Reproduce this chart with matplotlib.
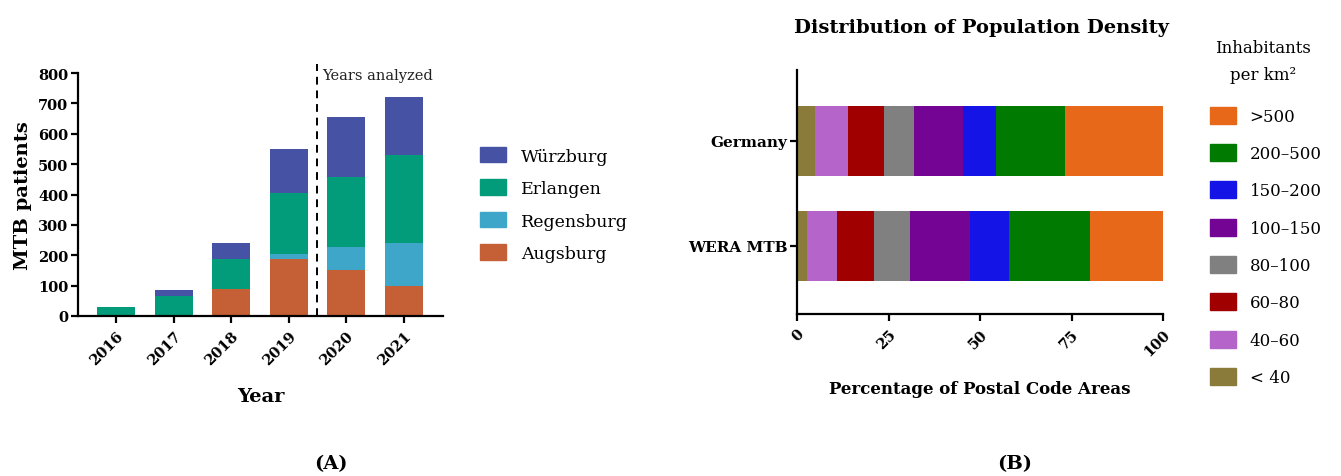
import matplotlib
matplotlib.use("Agg")
import matplotlib.pyplot as plt
from matplotlib.patches import Patch
import numpy as np

plt.rcParams['font.family'] = ['DejaVu Serif']

# ---- Panel A data ----
years = ['2016', '2017', '2018', '2019', '2020', '2021']
augsburg = [0, 0, 88, 187, 150, 100]
regensburg = [0, 0, 0, 16, 78, 140]
erlangen = [30, 66, 101, 202, 231, 290]
wuerzburg = [0, 18, 51, 145, 196, 191]
sites = ['Augsburg', 'Regensburg', 'Erlangen', 'Würzburg']
site_colors = ['#C55F35', '#3EA7C9', '#039C7A', '#4652A4']

# ---- Panel B data ----
groups = ['WERA MTB', 'Germany']
density_classes = ['< 40', '40–60', '60–80', '80–100', '100–150', '150–200', '200–500', '>500']
germany = [5.0, 8.8, 9.9, 8.4, 13.3, 9.1, 18.8, 26.7]
wera = [2.7, 8.1, 10.2, 10.0, 16.3, 10.7, 22.1, 19.9]
density_colors = ['#8B7B3A', '#B565C9', '#A00000', '#808080', '#740494', '#1414E6', '#007A00', '#E8681A']

W, H = 1341, 477
fig = plt.figure(figsize=(W / 100, H / 100), dpi=100)

def rect(l, r, b, t):
    return [l / W, (H - b) / H, (r - l) / W, (b - t) / H]

TICK = 10.5

# ---------------- Panel A ----------------
axA = fig.add_axes(rect(78, 443, 317, 74))
x = np.arange(len(years))
bottom = np.zeros(len(years))
for vals, name, col in zip([augsburg, regensburg, erlangen, wuerzburg], sites, site_colors):
    axA.bar(x, vals, width=0.66, bottom=bottom, color=col, label=name, linewidth=0)
    bottom += np.array(vals)
axA.set_xlim(-0.66, 5.68)
axA.set_ylim(0, 800)
axA.set_yticks(range(0, 801, 100))
axA.set_xticks(x)
axA.set_xticklabels(years, rotation=45, ha='right', rotation_mode='anchor', fontweight='bold', fontsize=TICK)
for lab in axA.get_yticklabels():
    lab.set_fontweight('bold'); lab.set_fontsize(TICK)
axA.spines['top'].set_visible(False)
axA.spines['right'].set_visible(False)
for s in ['left', 'bottom']:
    axA.spines[s].set_linewidth(1.6)
axA.tick_params(width=1.6, length=5, pad=2)
axA.tick_params(axis='x', pad=4)
axA.set_ylabel('MTB patients', fontweight='bold', fontsize=14, labelpad=4)
axA.set_xlabel('Year', fontweight='bold', fontsize=14, labelpad=14)
axA.plot([3.5, 3.5], [0, 830], ls='--', color='black', lw=1.4, clip_on=False, dashes=(4, 3))
axA.text(3.58, 795, 'Years analyzed', fontsize=10.5, va='center', ha='left', color='#222222')
handles = [Patch(color=c, label=n) for n, c in zip(sites, site_colors)][::-1]
fig.legend(handles=handles, loc='upper left', bbox_to_anchor=(473 / W, 1 - 141 / H),
           frameon=False, fontsize=12.5, handlelength=1.5, handleheight=1.0,
           labelspacing=0.85, handletextpad=0.85, borderaxespad=0)

fig.text(331 / W, 1 - 464 / H, '(A)', fontweight='bold', fontsize=14, ha='center', va='center')

# ---------------- Panel B ----------------
axB = fig.add_axes(rect(797, 1163, 315, 71))
y = np.arange(len(groups))
left = np.zeros(len(groups))
for i, (cls, col) in enumerate(zip(density_classes, density_colors)):
    vals = np.array([wera[i], germany[i]])
    axB.barh(y, vals, height=0.667, left=left, color=col, label=cls, linewidth=0)
    left += vals
axB.set_xlim(0, 100)
axB.set_ylim(-0.648, 1.676)
axB.set_xticks([0, 25, 50, 75, 100])
axB.set_xticklabels(['0', '25', '50', '75', '100'], rotation=45, ha='right',
                    rotation_mode='anchor', fontweight='bold', fontsize=TICK)
axB.set_yticks(y)
axB.set_yticklabels(groups, fontweight='bold', fontsize=11)
axB.spines['top'].set_visible(False)
axB.spines['right'].set_visible(False)
for s in ['left', 'bottom']:
    axB.spines[s].set_linewidth(1.6)
axB.tick_params(width=1.6, length=5, pad=2)
axB.tick_params(axis='x', pad=4)
axB.set_xlabel('Percentage of Postal Code Areas', fontweight='bold', fontsize=12, labelpad=16)
fig.text(981 / W, 1 - 28 / H, 'Distribution of Population Density', fontweight='bold',
         fontsize=14, ha='center', va='center')

handlesB = [Patch(color=c, label=n) for n, c in zip(density_classes, density_colors)][::-1]
fig.legend(handles=handlesB, loc='upper left', bbox_to_anchor=(1203 / W, 1 - 101 / H),
           frameon=False, fontsize=12, handlelength=1.56, handleheight=1.2,
           labelspacing=1.15, handletextpad=0.84, borderaxespad=0)
fig.text(1263 / W, 1 - 62 / H, 'Inhabitants\nper km²', fontsize=12, ha='center', va='center',
         linespacing=1.8)

fig.text(1015 / W, 1 - 464 / H, '(B)', fontweight='bold', fontsize=14, ha='center', va='center')

fig.savefig('out.png', dpi=100)
